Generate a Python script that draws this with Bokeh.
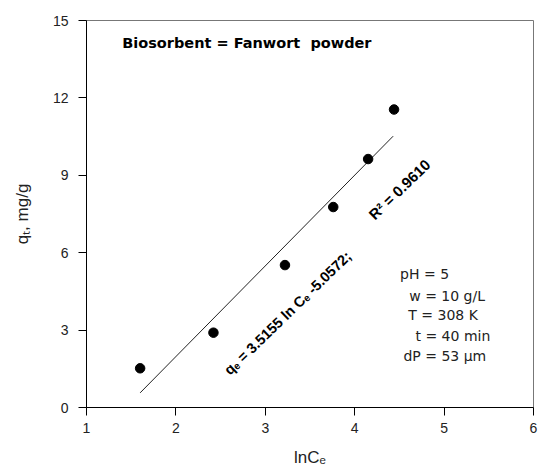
from bokeh.plotting import figure
from bokeh.models import Range1d, FixedTicker, ColumnDataSource
from bokeh.core.properties import value
from bokeh.embed import file_html
from bokeh.resources import INLINE

# data
ln_ce = [1.60, 2.42, 3.22, 3.76, 4.15, 4.44]
qt = [1.52, 2.90, 5.52, 7.77, 9.63, 11.55]
slope = 3.5155
intercept = -5.0572
fit_x = [1.60, 4.43]
x_ticks = [1, 2, 3, 4, 5, 6]
y_ticks = [0, 3, 6, 9, 12, 15]
conditions = ["pH = 5", "w = 10 g/L", "T = 308 K", "t = 40 min", "dP = 53 \u03bcm"]

FONT = "Liberation Sans"
WIDE = "DejaVu Sans"

p = figure(width=538, height=468, output_backend="svg", toolbar_location=None,
           x_range=Range1d(1, 6), y_range=Range1d(0, 15),
           min_border_left=86, min_border_right=5, min_border_top=20, min_border_bottom=61,
           frame_width=447, frame_height=387)
p.grid.visible = False
p.outline_line_color = "#777777"
p.background_fill_color = "white"
p.border_fill_color = "white"

for ax, ticks in ((p.xaxis[0], x_ticks), (p.yaxis[0], y_ticks)):
    ax.ticker = FixedTicker(ticks=ticks)
    ax.minor_tick_line_color = None
    ax.major_tick_in = 0
    ax.major_tick_out = 8
    ax.axis_line_color = "black"
    ax.major_tick_line_color = "black"
    ax.major_label_text_font = FONT
    ax.major_label_text_font_size = "14px"
    ax.major_label_text_color = "#222222"
    ax.axis_label_text_font = FONT
    ax.axis_label_text_font_size = "17px"
    ax.axis_label_text_font_style = "normal"
    ax.axis_label_text_color = "#222222"

p.xaxis.axis_label = "lnC\u2091"
p.yaxis.axis_label = "q\u209c, mg/g"
p.xaxis.major_label_standoff = 7
p.yaxis.major_label_standoff = 10
p.xaxis.axis_label_standoff = 12
p.yaxis.axis_label_standoff = 18

fit_y = [slope * x + intercept for x in fit_x]
p.line(fit_x, fit_y, line_color="#222222", line_width=1)

src = ColumnDataSource(dict(x=ln_ce, y=qt))
p.scatter("x", "y", source=src, size=9.5, fill_color="black", line_color="black")

p.text(x=[1.40], y=[14.12], text=["Biosorbent = Fanwort\u00a0 powder"],
       text_font=value(WIDE), text_font_size="14.5px", text_font_style="bold",
       text_baseline="middle", text_align="left", text_color="black")

ang = 0.77
p.text(x=[3.25], y=[3.66], text=["q\u2091 = 3.5155 ln C\u2091 -5.0572;"],
       angle=ang, text_font=value(FONT), text_font_size="14.5px", text_font_style="bold",
       text_baseline="middle", text_align="center", text_color="black")
p.text(x=[4.50], y=[8.45], text=["R\u00b2 = 0.9610"],
       angle=ang, text_font=value(FONT), text_font_size="15px", text_font_style="bold",
       text_baseline="middle", text_align="center", text_color="black")

cx = [4.508, 4.61, 4.60, 4.68, 4.545]
cy = [5.16, 4.34, 3.57, 2.79, 1.98]
p.text(x=cx, y=cy, text=conditions, text_font=value(WIDE), text_font_size="14px",
       text_baseline="middle", text_align="left", text_color="#222222")

open("out.html", "w").write(file_html(p, INLINE))
